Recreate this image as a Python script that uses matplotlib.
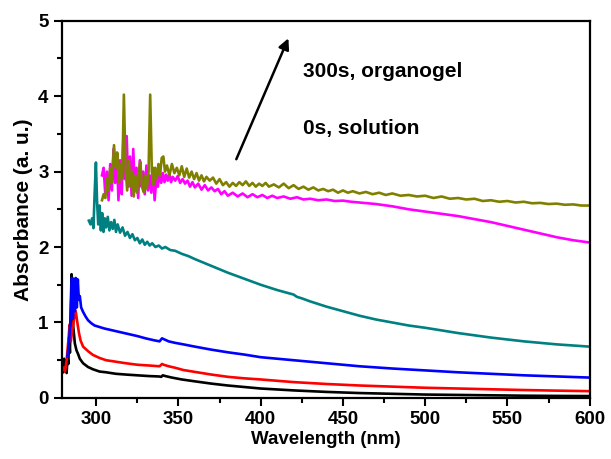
import matplotlib
matplotlib.use('Agg')
import matplotlib.pyplot as plt

plt.rcParams['font.family'] = ['Liberation Sans', 'DejaVu Sans']
plt.rcParams['font.weight'] = 'bold'

# spectra (wavelength in nm, absorbance in a.u.)
black_x = [279.5, 280, 280.5, 281, 281.5, 282, 282.5, 283, 283.5, 284, 284.5, 285, 285.5, 286, 287, 288,
           289, 290, 292, 295, 298, 302, 306, 312, 318, 325, 332, 338, 339.5, 340.5, 342, 346, 352, 360,
           370, 380, 390, 400, 420, 440, 460, 480, 500, 520, 540, 560, 580, 600]
black_y = [0.40, 0.34, 0.52, 0.36, 0.47, 0.33, 0.55, 0.45, 0.80, 0.60, 1.20, 1.64, 1.50, 0.95, 0.72, 0.63,
           0.58, 0.52, 0.46, 0.41, 0.38, 0.35, 0.34, 0.32, 0.31, 0.30, 0.29, 0.285, 0.28, 0.30, 0.29, 0.27,
           0.245, 0.22, 0.19, 0.165, 0.145, 0.125, 0.10, 0.08, 0.065, 0.055, 0.045, 0.04, 0.035, 0.03,
           0.027, 0.025]

red_x = [280, 281, 282, 283, 283.8, 284.5, 285.5, 286.5, 287.5, 288.5, 289.5, 290.5, 292, 295, 298, 302,
         306, 312, 318, 325, 332, 338.5, 340, 341, 344, 348, 353, 360, 370, 380, 390, 400, 420, 440, 460,
         480, 500, 520, 540, 560, 580, 600]
red_y = [0.40, 0.35, 0.50, 0.75, 0.97, 0.75, 0.90, 1.05, 1.15, 1.00, 0.86, 0.76, 0.68, 0.62, 0.57, 0.53,
         0.50, 0.48, 0.46, 0.44, 0.43, 0.42, 0.45, 0.44, 0.42, 0.40, 0.37, 0.345, 0.31, 0.28, 0.26, 0.245,
         0.21, 0.185, 0.165, 0.15, 0.135, 0.125, 0.115, 0.105, 0.097, 0.09]

blue_x = [282.5, 283.5, 284.5, 285.2, 285.8, 286.4, 287, 287.6, 288.2, 288.8, 289.4, 290, 290.8, 292,
          293.5, 295, 297, 299, 302, 305, 310, 315, 320, 325, 330, 335, 338.5, 340, 341, 344, 348, 353,
          360, 370, 380, 390, 400, 420, 440, 460, 480, 500, 520, 540, 560, 580, 600]
blue_y = [0.55, 0.75, 1.10, 1.59, 1.05, 1.58, 1.15, 1.59, 1.20, 1.57, 1.30, 1.35, 1.20, 1.14, 1.08, 1.03,
          0.99, 0.96, 0.94, 0.92, 0.895, 0.87, 0.845, 0.82, 0.79, 0.765, 0.75, 0.79, 0.78, 0.75, 0.73,
          0.71, 0.68, 0.64, 0.605, 0.575, 0.54, 0.50, 0.46, 0.42, 0.39, 0.365, 0.34, 0.32, 0.30,
          0.285, 0.27]

teal_x = [295.5, 296.5, 297.5, 298.3, 299, 299.8, 300.5, 301.2, 302, 302.8, 303.6, 304.4, 305.2, 306,
          307, 308, 309, 310, 311, 312, 313, 314.5, 316, 317.5, 319, 320.5, 322, 323.5, 325, 326.5, 328,
          329.5, 331, 332.5, 334, 336, 338, 340, 342, 345, 348, 352, 356, 360, 370, 380, 390, 400, 410,
          420, 422, 425, 430, 440, 450, 460, 470, 480, 490, 500, 520, 540, 560, 580, 600]
teal_y = [2.35, 2.30, 2.38, 2.25, 2.70, 3.12, 2.60, 2.30, 2.55, 2.22, 2.45, 2.20, 2.38, 2.26, 2.40, 2.22,
          2.33, 2.24, 2.36, 2.20, 2.30, 2.19, 2.26, 2.15, 2.20, 2.12, 2.17, 2.09, 2.12, 2.05, 2.10, 2.03,
          2.07, 2.02, 2.05, 2.00, 2.02, 1.98, 2.00, 1.96, 1.95, 1.91, 1.88, 1.84, 1.75, 1.66, 1.58, 1.50,
          1.43, 1.37, 1.34, 1.32, 1.28, 1.21, 1.15, 1.09, 1.04, 1.00, 0.96, 0.93, 0.86, 0.80, 0.75, 0.71,
          0.68]

magenta_x = [303.5, 304.5, 305.5, 306.5, 307.5, 308.5, 309.5, 310.5, 311.5, 312.5, 313.5, 314.5, 315.5,
             316.5, 317.5, 318.5, 319.5, 320.5, 321.5, 322.5, 323.5, 324.5, 325.5, 326.5, 327.5, 328.5,
             329.5, 330.5, 331.5, 332.5, 333.5, 334.5, 335.5, 336.5, 337.5, 338.5, 339.5, 340.5, 341.5,
             342.5, 343.5, 344.5, 345.5, 346.5, 348, 349.5, 351, 352.5, 354, 355.5, 357, 358.5, 360, 362,
             364, 366, 368, 370, 372, 374, 376, 378, 380, 383, 386, 389, 392, 395, 398, 401, 404, 407,
             410, 414, 418, 422, 426, 430, 435, 440, 445, 450, 455, 460, 470, 480, 490, 500, 510, 520,
             530, 540, 550, 560, 570, 580, 590, 600]
magenta_y = [2.95, 3.05, 2.70, 3.00, 2.62, 3.10, 2.75, 3.30, 2.85, 3.25, 2.62, 3.15, 2.70, 3.45, 2.90,
             3.47, 2.80, 3.20, 2.68, 3.30, 2.75, 3.05, 2.65, 3.15, 2.80, 3.00, 2.70, 3.08, 2.75, 2.95,
             2.72, 3.05, 2.62, 2.90, 2.80, 3.02, 2.85, 2.98, 2.86, 2.96, 2.88, 2.97, 2.86, 2.93, 2.88,
             2.94, 2.85, 2.90, 2.84, 2.88, 2.80, 2.86, 2.79, 2.84, 2.76, 2.82, 2.75, 2.79, 2.74, 2.77,
             2.70, 2.74, 2.68, 2.72, 2.67, 2.71, 2.66, 2.70, 2.66, 2.69, 2.65, 2.68, 2.65, 2.67, 2.64,
             2.66, 2.63, 2.64, 2.62, 2.63, 2.61, 2.615, 2.60, 2.59, 2.57, 2.54, 2.50, 2.47, 2.44, 2.41,
             2.37, 2.33, 2.28, 2.23, 2.18, 2.13, 2.09, 2.06]

olive_x = [303.5, 304.5, 305.5, 306.5, 307.5, 308.5, 309.5, 310.8, 311.8, 312.8, 313.8, 314.8, 315.8,
           316.8, 317.8, 318.8, 319.8, 320.8, 321.8, 322.8, 323.8, 324.8, 325.8, 326.8, 327.8, 328.8,
           329.8, 330.8, 331.8, 332.8, 333.8, 334.8, 335.8, 336.8, 337.8, 338.8, 339.8, 340.8, 341.8,
           343, 344.5, 346, 347.5, 349, 350.5, 352, 353.5, 355, 356.5, 358, 359.5, 361, 362.5, 364,
           365.5, 367, 369, 371, 373, 375, 377, 379, 381, 383, 385, 387, 389, 391, 393, 395, 397, 399,
           401, 403, 405, 408, 411, 414, 417, 420, 423, 426, 429, 432, 435, 438, 441, 444, 447, 450,
           453, 456, 460, 464, 468, 472, 476, 480, 485, 490, 495, 500, 505, 510, 515, 520, 525, 530,
           535, 540, 545, 550, 555, 560, 565, 570, 575, 580, 585, 590, 595, 600]
olive_y = [2.62, 2.70, 2.65, 2.90, 2.75, 3.05, 2.85, 3.35, 3.05, 3.25, 2.85, 3.10, 2.90, 4.02, 3.05,
           2.75, 3.15, 2.80, 3.00, 2.67, 2.95, 2.72, 3.00, 3.13, 2.80, 2.73, 2.95, 2.78, 3.00, 4.02,
           3.00, 2.82, 3.05, 2.90, 3.10, 2.95, 3.18, 3.20, 3.00, 3.08, 2.95, 3.10, 2.98, 3.05, 2.95,
           3.07, 2.93, 3.04, 2.92, 3.00, 2.90, 2.98, 2.88, 2.95, 2.87, 2.93, 2.88, 2.92, 2.84, 2.90,
           2.82, 2.86, 2.80, 2.85, 2.81, 2.86, 2.82, 2.87, 2.81, 2.85, 2.80, 2.84, 2.81, 2.85, 2.80,
           2.83, 2.79, 2.84, 2.78, 2.82, 2.77, 2.80, 2.76, 2.79, 2.75, 2.77, 2.74, 2.76, 2.72, 2.75,
           2.72, 2.74, 2.71, 2.73, 2.70, 2.72, 2.69, 2.71, 2.68, 2.69, 2.67, 2.68, 2.65, 2.67, 2.64,
           2.65, 2.63, 2.64, 2.61, 2.62, 2.60, 2.61, 2.59, 2.60, 2.58, 2.585, 2.57, 2.575, 2.56, 2.565,
           2.55, 2.55]

series = [
    (black_x, black_y, '#000000'),
    (red_x, red_y, '#ff0000'),
    (blue_x, blue_y, '#0000ff'),
    (teal_x, teal_y, '#008080'),
    (magenta_x, magenta_y, '#ff00ff'),
    (olive_x, olive_y, '#808000'),
]

fig = plt.figure(figsize=(6.11, 4.59), dpi=100)
ax = fig.add_axes([0.101, 0.133, 0.864, 0.822])

for x, y, color in series:
    ax.plot(x, y, color=color, lw=1.9)

ax.set_xlim(279, 600)
ax.set_ylim(0, 5)
ax.set_xticks(range(300, 601, 50))
ax.set_xticks(range(325, 600, 50), minor=True)
ax.set_yticks(range(0, 6))
ax.set_yticks([0.5, 1.5, 2.5, 3.5, 4.5], minor=True)
ax.tick_params(which='both', direction='out', width=1.5, labelsize=13.5, top=False, right=False)
ax.tick_params(which='major', length=6)
ax.tick_params(which='minor', length=3.5)
for label in ax.get_xticklabels() + ax.get_yticklabels():
    label.set_fontweight('bold')
for spine in ax.spines.values():
    spine.set_linewidth(1.6)

ax.set_xlabel('Wavelength (nm)', fontsize=13.5, fontweight='bold', labelpad=2)
ax.set_ylabel('Absorbance (a. u.)', fontsize=15, fontweight='bold', labelpad=4)

ax.annotate('', xy=(417.5, 4.8), xytext=(384.5, 3.13),
            arrowprops=dict(arrowstyle='-|>', color='black', lw=1.8, mutation_scale=16))
ax.text(426, 4.33, '300s, organogel', fontsize=15, fontweight='bold', va='center')
ax.text(426, 3.57, '0s, solution', fontsize=15, fontweight='bold', va='center')

fig.savefig('out.png', dpi=100)
